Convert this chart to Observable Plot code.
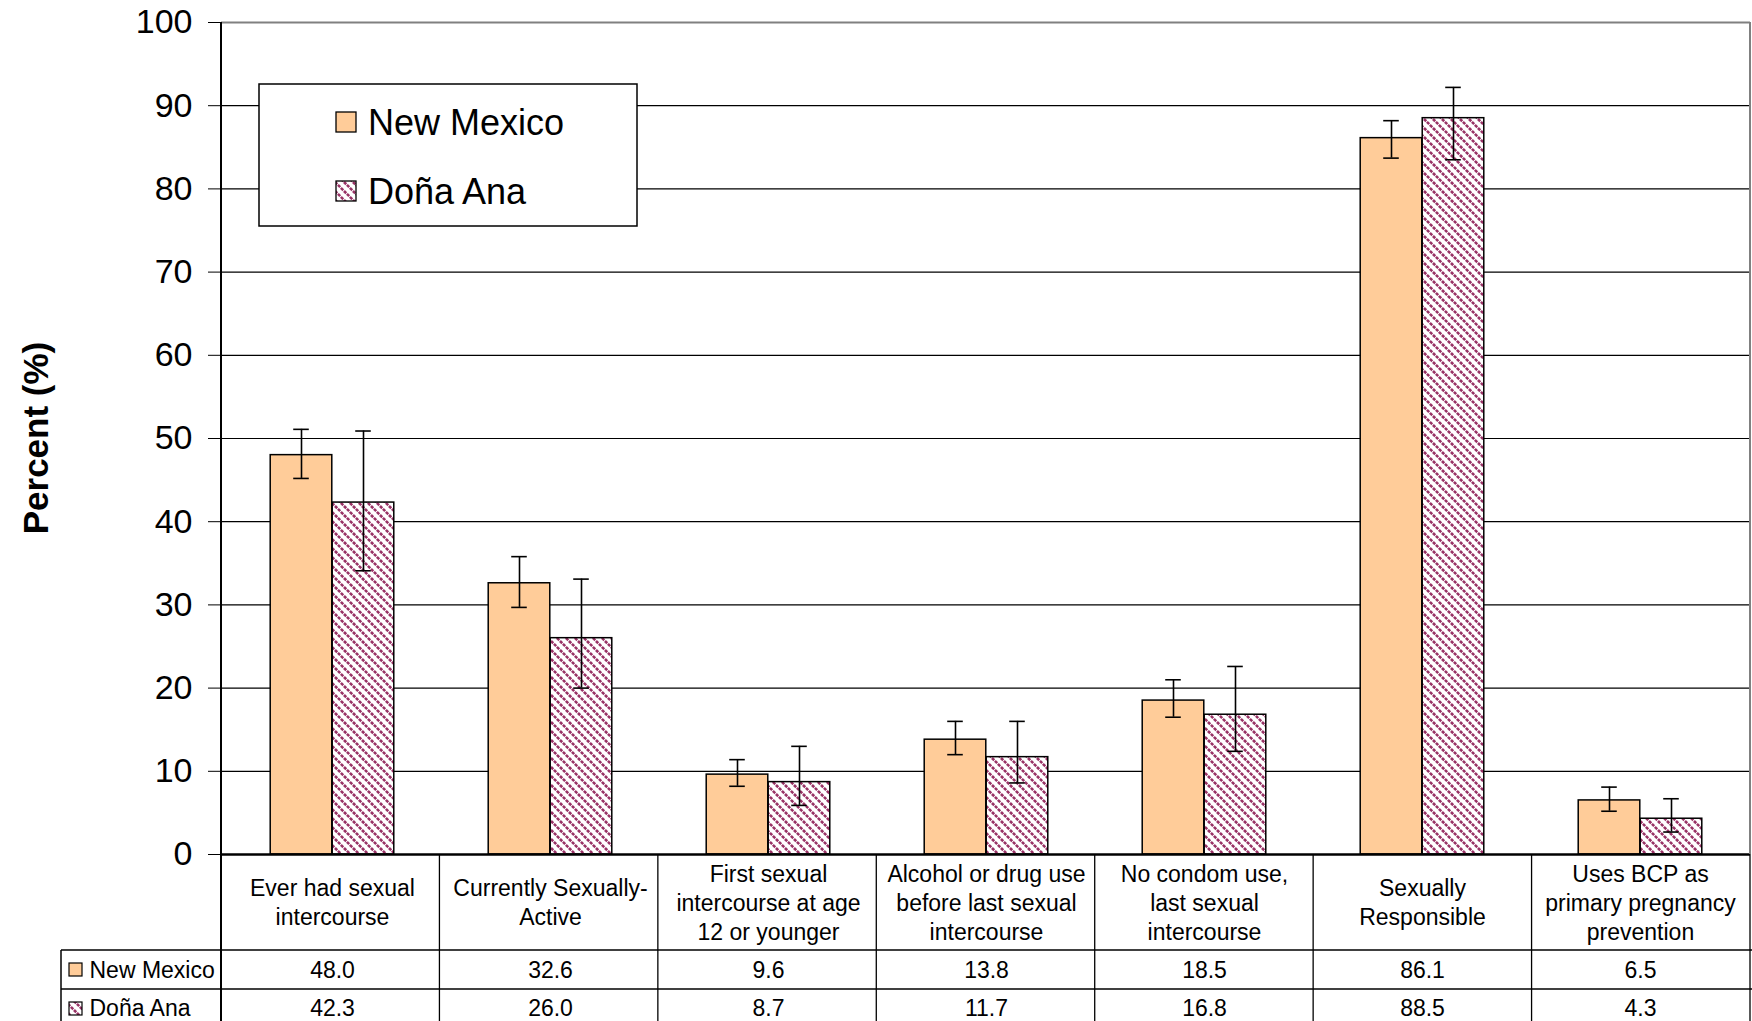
<!DOCTYPE html>
<html>
<head>
<meta charset="utf-8">
<script src="https://cdn.jsdelivr.net/npm/d3@7"></script>
<script src="https://cdn.jsdelivr.net/npm/@observablehq/plot@0.6"></script>
<style>
  html, body { margin: 0; padding: 0; background: #ffffff; }
  #chart { width: 1752px; height: 1021px; overflow: hidden; }
</style>
</head>
<body>
<div id="chart"></div>
<script>
// ---- Data ----
const categories = [
  "Ever had sexual\nintercourse",
  "Currently Sexually-\nActive",
  "First sexual\nintercourse at age\n12 or younger",
  "Alcohol or drug use\nbefore last sexual\nintercourse",
  "No condom use,\nlast sexual\nintercourse",
  "Sexually\nResponsible",
  "Uses BCP as\nprimary pregnancy\nprevention"
];
const seriesNames = ["New Mexico", "Doña Ana"];
const nmValues = [48.0, 32.6, 9.6, 13.8, 18.5, 86.1, 6.5];
const daValues = [42.3, 26.0, 8.7, 11.7, 16.8, 88.5, 4.3];
const nmLow  = [45.2, 29.7, 8.2, 12.0, 16.5, 83.7, 5.2];
const nmHigh = [51.1, 35.8, 11.4, 16.0, 21.0, 88.2, 8.1];
const daLow  = [34.1, 20.0, 5.9, 8.6, 12.4, 83.5, 2.7];
const daHigh = [50.9, 33.1, 13.0, 16.0, 22.6, 92.2, 6.7];
const yTicks = [0, 10, 20, 30, 40, 50, 60, 70, 80, 90, 100];
const yLabel = "Percent (%)";

// ---- Layout ----
const W = 1752, H = 1021;
const mL = 221, mR = 2, mT = 22, mB = 167;
const bw = (W - mL - mR) / categories.length;
const half = bw / 2;
const barW = 62;
const capW = 16;
const nmColor = "#FFCC99";
const daColor = "#993366";
const FONT = "'Liberation Sans', Arial, Helvetica, sans-serif";

const rows = categories.map((c, i) => ({
  cat: c,
  nm: nmValues[i], da: daValues[i],
  nmLo: nmLow[i], nmHi: nmHigh[i],
  daLo: daLow[i], daHi: daHigh[i]
}));

const chart = Plot.plot({
  width: W, height: H,
  marginLeft: mL, marginRight: mR, marginTop: mT, marginBottom: mB,
  style: { fontFamily: FONT, fontSize: "34px", background: "white", color: "black", overflow: "visible" },
  x: { domain: categories, padding: 0, axis: null },
  y: { domain: [0, 100], ticks: yTicks, tickSize: 13, tickPadding: 16, tickFormat: d => String(d), label: null, axis: "left" },
  marks: [
    Plot.ruleY(yTicks.filter(t => t > 0 && t < 100), { y: d => d, stroke: "black", strokeWidth: 1.2 }),
    Plot.ruleY([100], { y: d => d, stroke: "#808080", strokeWidth: 2 }),
    Plot.barY(rows, { x: "cat", y: "nm", fill: nmColor, stroke: "black", strokeWidth: 1.5,
      insetLeft: half - barW, insetRight: half }),
    Plot.barY(rows, { x: "cat", y: "da", fill: "url(#daPattern)", stroke: "black", strokeWidth: 1.5,
      insetLeft: half, insetRight: half - barW }),
    Plot.ruleY([0], { y: d => d, stroke: "black", strokeWidth: 2.5 }),
    // error bars
    Plot.ruleX(rows, { x: "cat", y1: "nmLo", y2: "nmHi", dx: -barW / 2, stroke: "black", strokeWidth: 1.6 }),
    Plot.ruleX(rows, { x: "cat", y1: "daLo", y2: "daHi", dx: barW / 2, stroke: "black", strokeWidth: 1.6 }),
    Plot.tickY(rows, { x: "cat", y: "nmLo", insetLeft: half - barW / 2 - capW / 2, insetRight: half + barW / 2 - capW / 2, stroke: "black", strokeWidth: 1.6 }),
    Plot.tickY(rows, { x: "cat", y: "nmHi", insetLeft: half - barW / 2 - capW / 2, insetRight: half + barW / 2 - capW / 2, stroke: "black", strokeWidth: 1.6 }),
    Plot.tickY(rows, { x: "cat", y: "daLo", insetLeft: half + barW / 2 - capW / 2, insetRight: half - barW / 2 - capW / 2, stroke: "black", strokeWidth: 1.6 }),
    Plot.tickY(rows, { x: "cat", y: "daHi", insetLeft: half + barW / 2 - capW / 2, insetRight: half - barW / 2 - capW / 2, stroke: "black", strokeWidth: 1.6 }),
    // data table: category labels and values
    Plot.text(rows, { x: "cat", frameAnchor: "bottom", dy: 47, text: "cat", fontSize: 23, lineAnchor: "middle", lineHeight: 1.26, fill: "black" }),
    Plot.text(rows, { x: "cat", frameAnchor: "bottom", dy: 116, text: d => d.nm.toFixed(1), fontSize: 23, lineAnchor: "middle", fill: "black" }),
    Plot.text(rows, { x: "cat", frameAnchor: "bottom", dy: 154, text: d => d.da.toFixed(1), fontSize: 23, lineAnchor: "middle", fill: "black" }),
    Plot.text([seriesNames[0]], { frameAnchor: "bottom-left", dx: -132, dy: 116, text: d => d, textAnchor: "start", lineAnchor: "middle", fontSize: 23, fill: "black" }),
    Plot.text([seriesNames[1]], { frameAnchor: "bottom-left", dx: -132, dy: 154, text: d => d, textAnchor: "start", lineAnchor: "middle", fontSize: 23, fill: "black" })
  ]
});

document.getElementById("chart").appendChild(chart);

// ---- Decorations: pattern, axis line, table grid, legend, axis title ----
const svg = d3.select(chart);
const defs = svg.insert("defs", ":first-child");
const P = 9;
const pat = defs.append("pattern").attr("id", "daPattern").attr("patternUnits", "userSpaceOnUse")
  .attr("width", P).attr("height", P);
pat.append("rect").attr("width", P).attr("height", P).attr("fill", "white");
[-P, 0, P].forEach(off =>
  pat.append("line").attr("x1", off - 1).attr("y1", -1).attr("x2", off + P + 1).attr("y2", P + 1)
    .attr("stroke", daColor).attr("stroke-width", 2.6).attr("stroke-dasharray", "3.2 1"));

const yZero = H - mB;
const row1 = 950, row2 = 989;
const g = svg.append("g").attr("fill", "none");
// y axis line (extends through table)
g.append("line").attr("x1", mL).attr("x2", mL).attr("y1", mT).attr("y2", H).attr("stroke", "black").attr("stroke-width", 2);
// right border
g.append("line").attr("x1", W - mR).attr("x2", W - mR).attr("y1", mT).attr("y2", yZero).attr("stroke", "#808080").attr("stroke-width", 2);
// table vertical lines
for (let i = 1; i <= categories.length; i++) {
  const x = mL + i * bw;
  g.append("line").attr("x1", x).attr("x2", x).attr("y1", yZero).attr("y2", H).attr("stroke", "black").attr("stroke-width", 1.3);
}
// table horizontal lines
[row1, row2].forEach(y =>
  g.append("line").attr("x1", 61).attr("x2", W).attr("y1", y).attr("y2", y).attr("stroke", "black").attr("stroke-width", 1.5));
g.append("line").attr("x1", 61).attr("x2", 61).attr("y1", row1).attr("y2", H).attr("stroke", "black").attr("stroke-width", 1.5);

// table swatches
const sw = svg.append("g");
sw.append("rect").attr("x", 69).attr("y", 963).attr("width", 13).attr("height", 13).attr("fill", nmColor).attr("stroke", "black").attr("stroke-width", 1.2);
sw.append("rect").attr("x", 69).attr("y", 1002).attr("width", 13).attr("height", 13).attr("fill", "url(#daPattern)").attr("stroke", "black").attr("stroke-width", 1.2);

// y-axis title
svg.append("text").attr("transform", `translate(36, ${(mT + yZero) / 2}) rotate(-90)`)
  .attr("text-anchor", "middle").attr("dy", "0.35em").attr("font-size", 35).attr("font-weight", "bold")
  .attr("font-family", FONT).attr("fill", "black").text(yLabel);

// legend box
const lg = svg.append("g");
lg.append("rect").attr("x", 259).attr("y", 84).attr("width", 378).attr("height", 142)
  .attr("fill", "white").attr("stroke", "black").attr("stroke-width", 1.5);
lg.append("rect").attr("x", 336).attr("y", 112).attr("width", 20).attr("height", 20)
  .attr("fill", nmColor).attr("stroke", "black").attr("stroke-width", 1.3);
lg.append("rect").attr("x", 336).attr("y", 181).attr("width", 20).attr("height", 20)
  .attr("fill", "url(#daPattern)").attr("stroke", "black").attr("stroke-width", 1.3);
lg.append("text").attr("x", 368).attr("y", 122).attr("dy", "0.35em").attr("font-size", 36).attr("text-anchor", "start")
  .attr("font-family", FONT).attr("fill", "black").text(seriesNames[0]);
lg.append("text").attr("x", 368).attr("y", 191).attr("dy", "0.35em").attr("font-size", 36).attr("text-anchor", "start")
  .attr("font-family", FONT).attr("fill", "black").text(seriesNames[1]);
</script>
</body>
</html>
